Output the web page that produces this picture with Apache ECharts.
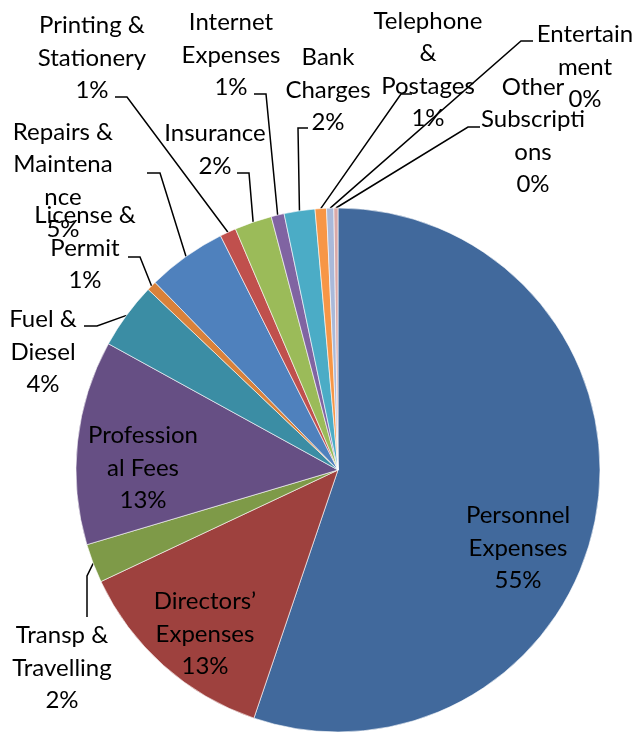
<!DOCTYPE html>
<html>
<head>
<meta charset="utf-8">
<script src="https://cdn.jsdelivr.net/npm/echarts@6/dist/echarts.min.js"></script>
<style>
html, body { margin: 0; padding: 0; background: #fff; }
#pie { width: 638px; height: 738px; }
</style>
</head>
<body>
<div id="pie"></div>
<script>
// expense heads, clockwise from 12 o'clock
const categories = ['Personnel Expenses', "Directors' Expenses", 'Transp & Travelling', 'Professional Fees',
    'Fuel & Diesel', 'License & Permit', 'Repairs & Maintenance', 'Printing & Stationery', 'Insurance',
    'Internet Expenses', 'Bank Charges', 'Telephone & Postages', 'Entertainment', 'Other Subscriptions'];
// label text, wrapped the way excel wrapped it
const labelText = ['Personnel\nExpenses', "Directors’\nExpenses", 'Transp &\nTravelling', 'Profession\nal Fees',
    'Fuel &\nDiesel', 'License &\nPermit', 'Repairs &\nMaintena\nnce', 'Printing &\nStationery', 'Insurance',
    'Internet\nExpenses', 'Bank\nCharges', 'Telephone\n&\nPostages', 'Entertain\nment', 'Other\nSubscripti\nons'];
// share of total, %
const shares = [55.2, 12.8, 2.4, 12.6, 4.1, 0.6, 4.9, 1.0, 2.3, 0.8, 1.9, 0.7, 0.45, 0.25];
const sliceColors = ['#41699c', '#9e413e', '#7e9a48', '#664f84', '#3b8da4', '#d9813a', '#4f81bd', '#c0504d',
    '#9bbb59', '#8064a2', '#4bacc6', '#f79646', '#a9b9d9', '#d9a9a8'];
const insideOnes = ['Personnel Expenses', "Directors' Expenses", 'Professional Fees'];

// where the labels sit: text centre, leader elbow, leader end
const labelSpot = {
    'Personnel Expenses': {c: [518, 548]},
    "Directors' Expenses": {c: [205, 634]},
    'Professional Fees': {c: [143, 468]},
    'Transp & Travelling': {c: [62, 668], line: [[87, 576], [87, 617]]},
    'Fuel & Diesel': {c: [43, 352], line: [[97, 326], [84, 326]]},
    'License & Permit': {c: [85, 248], line: [[140, 257], [128, 257]]},
    'Repairs & Maintenance': {c: [63, 181], line: [[160, 173], [147, 173]]},
    'Printing & Stationery': {c: [92, 58], line: [[127, 97], [115, 97]]},
    'Insurance': {c: [215, 150], line: [[249, 173], [237, 173]]},
    'Internet Expenses': {c: [231, 55], line: [[266, 94], [254, 94]]},
    'Bank Charges': {c: [328, 90], line: [[298, 128], [308, 128]]},
    'Telephone & Postages': {c: [428, 70], line: [[401, 94], [412, 94]]},
    'Entertainment': {c: [585, 67], line: [[521, 41], [533, 41]]},
    'Other Subscriptions': {c: [533, 136], line: [[468, 127], [480, 127]]}
};

let myChart = echarts.init(document.getElementById('pie'));

let pieData = categories.map((name, i) => {
    let inside = insideOnes.indexOf(name) >= 0;
    return {
        name: name,
        value: shares[i],
        itemStyle: {color: sliceColors[i]},
        label: {position: inside ? 'inside' : 'outside'},
        labelLine: {show: !inside}
    };
});

myChart.setOption({
    animation: false,
    series: [{
        type: 'pie',
        center: [338, 470],
        radius: 262,
        startAngle: 90,
        clockwise: true,
        avoidLabelOverlap: false,
        itemStyle: {borderColor: '#fff', borderWidth: 0.6},
        label: {
            color: '#000',
            fontFamily: 'Lato',
            fontSize: 24,
            lineHeight: 32.5,
            align: 'center',
            formatter: function (p) {
                return labelText[p.dataIndex] + '\n' + Math.round(p.percent) + '%';
            }
        },
        labelLine: {
            show: true,
            length: 10,
            length2: 10,
            lineStyle: {color: '#000', width: 1.5}
        },
        labelLayout: function (params) {
            let spot = labelSpot[categories[params.dataIndex]];
            let out = {x: spot.c[0], y: spot.c[1], align: 'center', verticalAlign: 'middle'};
            if (spot.line && params.labelLinePoints) {
                out.labelLinePoints = [params.labelLinePoints[0], spot.line[0], spot.line[1]];
            }
            return out;
        },
        emphasis: {disabled: true},
        data: pieData
    }]
});
</script>
</body>
</html>
